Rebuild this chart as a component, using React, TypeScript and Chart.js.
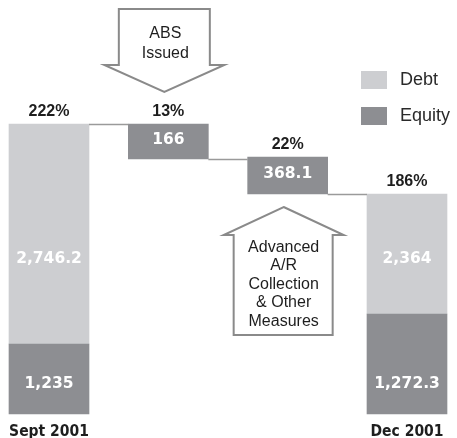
import React, { useEffect, useRef } from "react";
import { Chart, registerables } from "chart.js";

Chart.register(...registerables);

// ---- data (bar extents are the picture's illustrative heights, not to scale) ----
const categories = ["Sept 2001", "ABS Issued", "A/R Collection", "Dec 2001"];
const categoryLabels = ["Sept 2001", "", "", "Dec 2001"];
const equityExtent: ([number, number] | null)[] = [[0, 70], null, null, [0, 100]];
const debtExtent: ([number, number] | null)[] = [[70, 290], null, null, [100, 220]];
const changeExtent: ([number, number] | null)[] = [null, [255, 290], [220, 257], null];
const equityLabels = ["1,235", "", "", "1,272.3"];
const debtLabels = ["2,746.2", "", "", "2,364"];
const changeLabels = ["", "166", "368.1", ""];
const ratioLabels = ["222%", "13%", "22%", "186%"];
const downArrowText = ["ABS", "Issued"];
const upArrowText = ["Advanced", "A/R", "Collection", "& Other", "Measures"];

const DEBT_COLOR = "#cdced1";
const EQUITY_COLOR = "#8d8e92";
const LINE_COLOR = "#9a9a9a";
const ARROW_COLOR = "#8a8a8a";
const TEXT_COLOR = "#1e1e1e";

const overlayPlugin = {
  id: "overlay",
  afterDatasetsDraw(chart: any) {
    const ctx: CanvasRenderingContext2D = chart.ctx;
    const y = chart.scales.y;
    const metaE = chart.getDatasetMeta(0);
    const metaD = chart.getDatasetMeta(1);
    const metaC = chart.getDatasetMeta(2);
    const n = categories.length;

    const barAt = (i: number) => (debtExtent[i] ? metaD.data[i] : metaC.data[i]);

    ctx.save();
    // connectors
    ctx.strokeStyle = LINE_COLOR;
    ctx.lineWidth = 1.5;
    for (let i = 0; i < n - 1; i++) {
      const cur = barAt(i);
      const nxt = barAt(i + 1);
      let level: number;
      if (debtExtent[i]) level = (debtExtent[i] as [number, number])[1];
      else level = Math.min(...(changeExtent[i] as [number, number]));
      const py = Math.round(y.getPixelForValue(level)) + 0.5;
      ctx.beginPath();
      ctx.moveTo(cur.x + cur.width / 2, py);
      ctx.lineTo(nxt.x - nxt.width / 2, py);
      ctx.stroke();
    }

    // value labels inside bars
    ctx.fillStyle = "#ffffff";
    ctx.font = "bold 15.5px 'DejaVu Sans'";
    ctx.textAlign = "center";
    ctx.textBaseline = "alphabetic";
    const bottom = y.getPixelForValue(0);
    for (let i = 0; i < n; i++) {
      if (equityLabels[i]) ctx.fillText(equityLabels[i], metaE.data[i].x, bottom - 26);
      if (debtLabels[i]) ctx.fillText(debtLabels[i], metaD.data[i].x, bottom - 151);
      if (changeLabels[i]) {
        const el = metaC.data[i];
        ctx.textBaseline = "middle";
        ctx.fillText(changeLabels[i], el.x, (el.y + el.base) / 2 - 2);
        ctx.textBaseline = "alphabetic";
      }
    }

    // ratio labels above bars
    ctx.fillStyle = TEXT_COLOR;
    ctx.font = "bold 16px 'Liberation Sans', Arial, sans-serif";
    for (let i = 0; i < n; i++) {
      const ext = (debtExtent[i] || changeExtent[i]) as [number, number];
      const top = Math.max(...ext);
      ctx.fillText(ratioLabels[i], barAt(i).x, y.getPixelForValue(top) - 8);
    }

    // category labels
    ctx.font = "bold 15.5px 'DejaVu Sans Condensed', 'Liberation Sans', sans-serif";
    for (let i = 0; i < n; i++) {
      if (categoryLabels[i]) ctx.fillText(categoryLabels[i], barAt(i).x, bottom + 22);
    }

    // legend
    const legend = [
      { label: chart.data.datasets[1].label, color: DEBT_COLOR, y: 71 },
      { label: chart.data.datasets[0].label, color: EQUITY_COLOR, y: 107 },
    ];
    ctx.font = "18px 'Liberation Sans', Arial, sans-serif";
    ctx.textAlign = "left";
    ctx.textBaseline = "middle";
    for (const it of legend) {
      ctx.fillStyle = it.color;
      ctx.fillRect(361, it.y, 26, 18);
      ctx.fillStyle = "#2a2a2a";
      ctx.fillText(it.label, 400, it.y + 9.5);
    }

    // down arrow (ABS Issued)
    const cx1 = barAt(1).x - 4;
    ctx.fillStyle = "#ffffff";
    ctx.strokeStyle = ARROW_COLOR;
    ctx.lineWidth = 2;
    ctx.lineJoin = "miter";
    ctx.beginPath();
    ctx.moveTo(cx1 - 45.5, 9);
    ctx.lineTo(cx1 + 45.5, 9);
    ctx.lineTo(cx1 + 45.5, 65);
    ctx.lineTo(cx1 + 60, 65);
    ctx.lineTo(cx1, 92);
    ctx.lineTo(cx1 - 60, 65);
    ctx.lineTo(cx1 - 45.5, 65);
    ctx.closePath();
    ctx.fill();
    ctx.stroke();
    ctx.fillStyle = TEXT_COLOR;
    ctx.textAlign = "center";
    ctx.textBaseline = "alphabetic";
    ctx.font = "16px 'Liberation Sans', Arial, sans-serif";
    downArrowText.forEach((t, k) => ctx.fillText(t, cx1 + 1, 38 + k * 20));

    // up arrow (Advanced A/R Collection)
    const cx2 = barAt(2).x - 4;
    ctx.fillStyle = "#ffffff";
    ctx.beginPath();
    ctx.moveTo(cx2, 207);
    ctx.lineTo(cx2 + 60, 235);
    ctx.lineTo(cx2 + 49, 235);
    ctx.lineTo(cx2 + 49, 335);
    ctx.lineTo(cx2 - 50, 335);
    ctx.lineTo(cx2 - 50, 235);
    ctx.lineTo(cx2 - 60, 235);
    ctx.closePath();
    ctx.fill();
    ctx.stroke();
    ctx.fillStyle = TEXT_COLOR;
    upArrowText.forEach((t, k) => ctx.fillText(t, cx2, 252 + k * 18.4));

    ctx.restore();
  },
};

export default function App() {
  const ref = useRef<HTMLCanvasElement>(null);
  useEffect(() => {
    document.body.style.margin = "0";
    const chart = new Chart(ref.current as HTMLCanvasElement, {
      type: "bar",
      data: {
        labels: categories,
        datasets: [
          { label: "Equity", data: equityExtent as any, backgroundColor: EQUITY_COLOR, grouped: false, barThickness: 80, clip: false as any },
          { label: "Debt", data: debtExtent as any, backgroundColor: DEBT_COLOR, grouped: false, barThickness: 80, clip: false as any },
          { label: "Change", data: changeExtent as any, backgroundColor: EQUITY_COLOR, grouped: false, barThickness: 80, clip: false as any },
        ],
      },
      options: {
        animation: false,
        responsive: false,
        devicePixelRatio: 1,
        layout: { padding: { left: 49, right: 50, top: 14, bottom: 24 } },
        scales: {
          x: { display: false, offset: false },
          y: { display: false, min: 0, max: 400 },
        },
        plugins: { legend: { display: false }, tooltip: { enabled: false } },
      },
      plugins: [overlayPlugin],
    });
    return () => chart.destroy();
  }, []);
  return (
    <div style={{ width: 457, height: 438 }}>
      <canvas ref={ref} width={457} height={438} />
    </div>
  );
}
